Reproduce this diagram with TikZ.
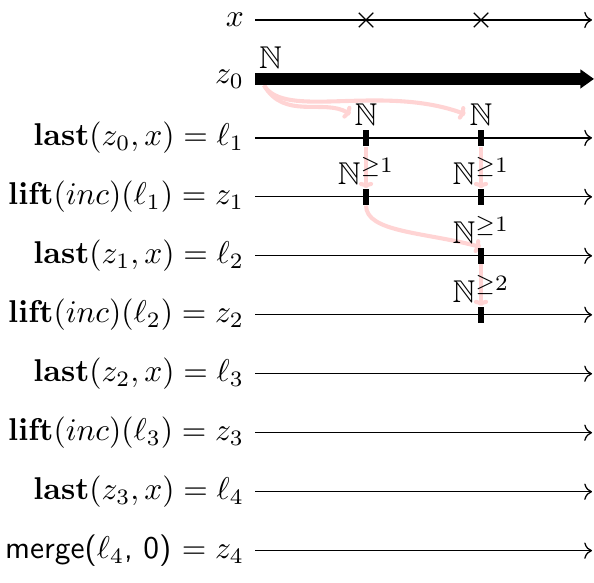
\documentclass[tikz,border=0pt]{standalone}
\usepackage{amssymb}
\usepackage{amsmath}
\usetikzlibrary{arrows.meta,shapes.misc,positioning,backgrounds}

\tikzset{
  rowlbl/.style={anchor=east},
  tick/.style={fill=black,inner sep=0pt,minimum width=1.9pt,minimum height=5.1pt},
  crossmark/.style={draw,cross out,inner sep=0pt,minimum size=4.2pt},
  setlbl/.style={inner sep=1.1pt},
  flow/.style={draw=red!17,line width=1.3pt,-{To[length=2pt,width=4.5pt]}},
}

\begin{document}
\begin{tikzpicture}
  \useasboundingbox (-2.846,0.223) rectangle (3.783,-6.279);
  % rows
  \node[rowlbl] (lx)  at (0,0)      {$x$};
  \node[rowlbl] (lz0) at (0,-0.658) {$z_0$};
  \node[rowlbl] (ll1) at (0,-1.316) {$\mathbf{last}(z_0, x) = \ell_1$};
  \node[rowlbl] (lz1) at (0,-1.974) {$\mathbf{lift}(inc)(\ell_1) = z_1$};
  \node[rowlbl] (ll2) at (0,-2.632) {$\mathbf{last}(z_1, x) = \ell_2$};
  \node[rowlbl] (lz2) at (0,-3.290) {$\mathbf{lift}(inc)(\ell_2) = z_2$};
  \node[rowlbl] (ll3) at (0,-3.948) {$\mathbf{last}(z_2, x) = \ell_3$};
  \node[rowlbl] (lz3) at (0,-4.606) {$\mathbf{lift}(inc)(\ell_3) = z_3$};
  \node[rowlbl] (ll4) at (0,-5.264) {$\mathbf{last}(z_3, x) = \ell_4$};
  \node[rowlbl] (lz4) at (0,-5.922) {\textsf{merge(}$\ell_4$\textsf{, 0)} $= z_4$};

  \coordinate (ex)  at (3.761,0);
  \coordinate (ez0) at (3.783,-0.658);
  \coordinate (el1) at (3.761,-1.316);
  \coordinate (ez1) at (3.761,-1.974);
  \coordinate (el2) at (3.761,-2.632);
  \coordinate (ez2) at (3.761,-3.290);
  \coordinate (el3) at (3.761,-3.948);
  \coordinate (ez3) at (3.761,-4.606);
  \coordinate (el4) at (3.761,-5.264);
  \coordinate (ez4) at (3.761,-5.922);

  \draw[->] (lx) -- (ex);
  \draw[line width=3.8pt,-{Triangle[length=4.3pt,width=5.8pt]}] (lz0) -- (ez0);
  \draw[->] (ll1) -- (el1);
  \draw[->] (lz1) -- (ez1);
  \draw[->] (ll2) -- (el2);
  \draw[->] (lz2) -- (ez2);
  \draw[->] (ll3) -- (el3);
  \draw[->] (lz3) -- (ez3);
  \draw[->] (ll4) -- (el4);
  \draw[->] (lz4) -- (ez4);

  % samples of x
  \node[crossmark] (cxa) at (1.239,0) {};
  \node[crossmark] (cxb) at (2.522,0) {};

  % ticks and their sets
  \node[setlbl,anchor=south west] (nz0) at ([yshift=2pt]lz0.east) {$\mathbb{N}$};
  \node[tick] (tl1a) at (1.239,-1.316) {};
  \node[tick] (tl1b) at (2.522,-1.316) {};
  \node[setlbl,above=0pt of tl1a] (nl1a) {$\mathbb{N}$};
  \node[setlbl,above=0pt of tl1b] (nl1b) {$\mathbb{N}$};
  \node[tick] (tz1a) at (1.239,-1.974) {};
  \node[tick] (tz1b) at (2.522,-1.974) {};
  \node[setlbl,above=0pt of tz1a] (nz1a) {$\mathbb{N}^{\geq 1}$};
  \node[setlbl,above=0pt of tz1b] (nz1b) {$\mathbb{N}^{\geq 1}$};
  \node[tick] (tl2b) at (2.522,-2.632) {};
  \node[setlbl,above=0pt of tl2b] (nl2b) {$\mathbb{N}^{\geq 1}$};
  \node[tick] (tz2b) at (2.522,-3.290) {};
  \node[setlbl,above=0pt of tz2b] (nz2b) {$\mathbb{N}^{\geq 2}$};

  % where the values go
  \begin{scope}[on background layer]
    \coordinate (z0src) at ([xshift=0.1cm,yshift=-2pt]lz0.east);
    \draw[flow] (z0src) .. controls +(-60:0.45) and +(150:0.35) .. (nl1a.west);
    \draw[flow] (z0src) .. controls +(-60:0.45) and +(160:1.0) .. (nl1b.west);
    \draw[flow] (tl1a.south) -- (nz1a.south);
    \draw[flow] (tl1b.south) -- (nz1b.south);
    \draw[flow] (tz1a.south) .. controls +(-90:0.3) and +(165:0.65) .. (nl2b.south);
    \draw[flow] (tl2b.south) -- (nz2b.south);
  \end{scope}
\end{tikzpicture}
\end{document}
